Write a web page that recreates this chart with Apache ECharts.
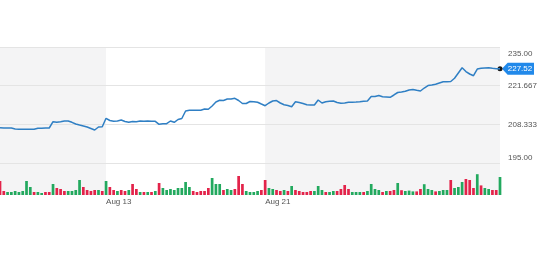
<!DOCTYPE html>
<html>
<head>
<meta charset="utf-8">
<script src="https://cdn.jsdelivr.net/npm/echarts@6/dist/echarts.min.js"></script>
<style>
html,body{margin:0;padding:0;background:#fff;}
#chart{width:548px;height:268px;}
</style>
</head>
<body>
<div id="chart"></div>
<script>
// ---- data ----
const days = ['Aug 7','Aug 8','Aug 9','Aug 10','Aug 13','Aug 14','Aug 15','Aug 16','Aug 17','Aug 20','Aug 21','Aug 22','Aug 23','Aug 24','Aug 27','Aug 28','Aug 29','Aug 30','Aug 31'];
const hours = ['09:30','10:30','11:30','12:30','13:30','14:30','15:30'];
const xTickLabels = ['Aug 13','Aug 21'];
const yTickLabels = ['195.00','208.333','221.667','235.00'];
const prices = [
  207.17,207.07,207.07,207.07,206.72,206.62,206.62,206.62,206.62,206.62,
  206.97,206.97,207.07,207.07,209.24,209.03,209.24,209.48,209.48,209.03,
  208.45,208.10,207.76,207.41,206.90,206.38,207.41,207.52,210.41,209.66,
  209.38,209.48,209.83,209.31,209.03,209.31,209.24,209.48,209.38,209.48,
  209.38,209.38,208.34,208.55,208.55,209.48,209.03,210.00,210.34,212.93,
  213.17,213.17,213.17,213.17,213.62,213.52,214.66,216.03,216.62,216.55,
  217.07,217.07,217.31,216.55,215.52,215.52,216.21,216.14,215.93,215.34,
  214.76,215.69,216.38,216.55,215.69,215.07,214.83,214.41,216.14,215.86,
  215.52,215.10,215.00,215.00,216.72,215.69,216.14,216.28,216.38,215.86,
  215.59,215.69,215.93,215.97,216.03,216.14,216.28,216.38,217.93,217.93,
  218.28,217.86,217.76,217.66,218.45,219.31,219.48,219.72,220.17,220.34,
  220.07,219.83,220.86,221.72,221.90,222.14,222.59,223.03,223.03,223.10,
  224.21,226.03,227.86,226.55,225.69,225.10,227.41,227.66,227.76,227.86,
  227.66,227.52,227.52
];
const volumes = [
  3.5,1.0,0.75,0.75,1.0,0.75,1.0,3.5,2.0,0.75,
  0.75,0.5,0.75,0.75,2.75,1.75,1.5,1.0,1.0,1.0,
  1.25,3.75,2.0,1.25,1.0,1.25,1.25,1.0,3.5,2.0,
  1.25,1.0,1.25,1.0,1.25,2.75,1.5,0.75,0.75,0.75,
  0.75,1.0,3.0,1.75,1.25,1.5,1.25,1.75,1.75,3.25,
  2.0,1.0,0.75,1.0,1.0,1.75,4.25,2.75,2.75,1.25,
  1.5,1.25,1.5,4.75,2.75,1.0,0.75,0.75,1.0,1.25,
  3.75,1.75,1.5,1.25,1.0,1.25,1.0,2.25,1.25,1.0,
  0.75,0.75,1.0,1.0,2.25,1.25,0.75,0.75,1.0,1.0,
  1.5,2.5,1.5,0.75,0.75,0.75,0.75,1.0,2.75,1.5,
  1.25,0.75,1.0,1.0,1.25,3.0,1.2,1.0,1.1,0.9,
  0.9,1.5,2.7,1.5,1.25,0.9,1.0,1.25,1.25,3.75,
  1.75,2.0,3.25,4.0,3.75,1.75,5.2,2.4,1.75,1.5,
  1.25,1.25,4.5
];
const volumeUp = [
  0,0,1,1,1,1,1,1,1,0, 1,1,0,0,1,0,0,0,1,1,
  1,1,0,0,0,0,1,0,1,0, 0,1,0,0,1,0,0,1,0,1,
  0,1,0,1,1,1,1,1,1,1, 1,0,0,0,0,0,1,1,1,0,
  1,1,0,0,0,1,1,1,1,0, 0,1,1,0,0,1,0,1,0,0,
  0,0,0,1,1,1,0,1,1,0, 0,0,0,1,1,1,0,1,1,1,
  1,0,1,0,0,1,0,1,1,1, 0,0,1,1,1,0,1,1,1,0,
  1,1,1,0,0,0,1,0,1,1, 0,0,1
];
// ---- build ----
const categories = [];
days.forEach(d => hours.forEach(h => categories.push(d + ' ' + h)));
const yMin = 195, yMax = 235, yStep = 40 / 3;
const lastIdx = categories.length - 1;
const lastPrice = prices[prices.length - 1];
const GREEN = '#22a95e', RED = '#e3234a';
const volData = volumes.map((v, i) => ({ value: v, itemStyle: { color: volumeUp[i] ? GREEN : RED } }));
const tickIdx = xTickLabels.map(t => categories.indexOf(t + ' ' + hours[0]));
const showTick = (idx) => tickIdx.indexOf(idx) >= 0;

const chart = echarts.init(document.getElementById('chart'), null, { renderer: 'canvas' });
const font = 'Liberation Sans, Arial, Helvetica, sans-serif';
chart.setOption({
  animation: false,
  grid: [
    { left: 0, top: 47, width: 500, height: 116 },
    { left: 0, top: 47, width: 500, height: 148, show: true, backgroundColor: '#f4f4f5', borderWidth: 0 }
  ],
  xAxis: [
    { type: 'category', gridIndex: 0, data: categories, boundaryGap: false, show: false },
    {
      type: 'category', gridIndex: 1, data: categories, boundaryGap: false,
      axisLine: { show: false }, axisTick: { show: false, interval: showTick }, splitLine: { show: false },
      splitArea: { show: true, interval: showTick, areaStyle: { color: ['#ffffff'] } },
      axisLabel: {
        interval: showTick,
        formatter: val => val.split(' ').slice(0, 2).join(' '),
        align: 'left', margin: 3, color: '#555', fontSize: 8, fontFamily: font
      }
    }
  ],
  yAxis: [
    {
      type: 'value', gridIndex: 0, position: 'right', min: yMin, max: yMax, interval: yStep, z: 3,
      axisLine: { show: false }, axisTick: { show: false },
      splitLine: { lineStyle: { color: '#e4e4e4', width: 1 } },
      axisLabel: {
        margin: 8, color: '#555', fontSize: 8, fontFamily: font, align: 'left',
        formatter: v => {
          const k = Math.round((v - yMin) / yStep);
          const t = yTickLabels[k];
          if (k === 3) return '{dn|' + t + '}';
          if (k === 0) return '{up|' + t + '}';
          return '{md|' + t + '}';
        },
        rich: {
          dn: { lineHeight: 22, verticalAlign: 'bottom', fontSize: 8, color: '#555', fontFamily: font },
          up: { lineHeight: 18, verticalAlign: 'top', fontSize: 8, color: '#555', fontFamily: font },
          md: { fontSize: 8, color: '#555', fontFamily: font }
        }
      }
    },
    { type: 'value', gridIndex: 1, min: 0, max: 37, show: false }
  ],
  series: [
    {
      type: 'bar', xAxisIndex: 1, yAxisIndex: 1, data: volData, barWidth: 2.7, z: 2
    },
    {
      type: 'line', xAxisIndex: 0, yAxisIndex: 0, data: prices, z: 5,
      showSymbol: false, smooth: false,
      lineStyle: { color: '#2f7fc4', width: 1.5 },
      markPoint: {
        silent: true,
        data: [
          {
            coord: [lastIdx, lastPrice],
            symbol: 'path://M0,6L6,0L34,0L34,12L6,12Z',
            symbolSize: [32, 12], symbolKeepAspect: false, symbolOffset: [18, 0],
            itemStyle: { color: '#2189ea' },
            label: {
              show: true, position: 'inside', offset: [2, 0], color: '#fff',
              fontSize: 8, fontFamily: font, formatter: () => lastPrice.toFixed(2)
            }
          },
          {
            coord: [lastIdx, lastPrice],
            symbol: 'circle', symbolSize: 5,
            itemStyle: { color: '#1a1a1a' },
            label: { show: false }
          }
        ]
      }
    }
  ]
});
</script>
</body>
</html>
